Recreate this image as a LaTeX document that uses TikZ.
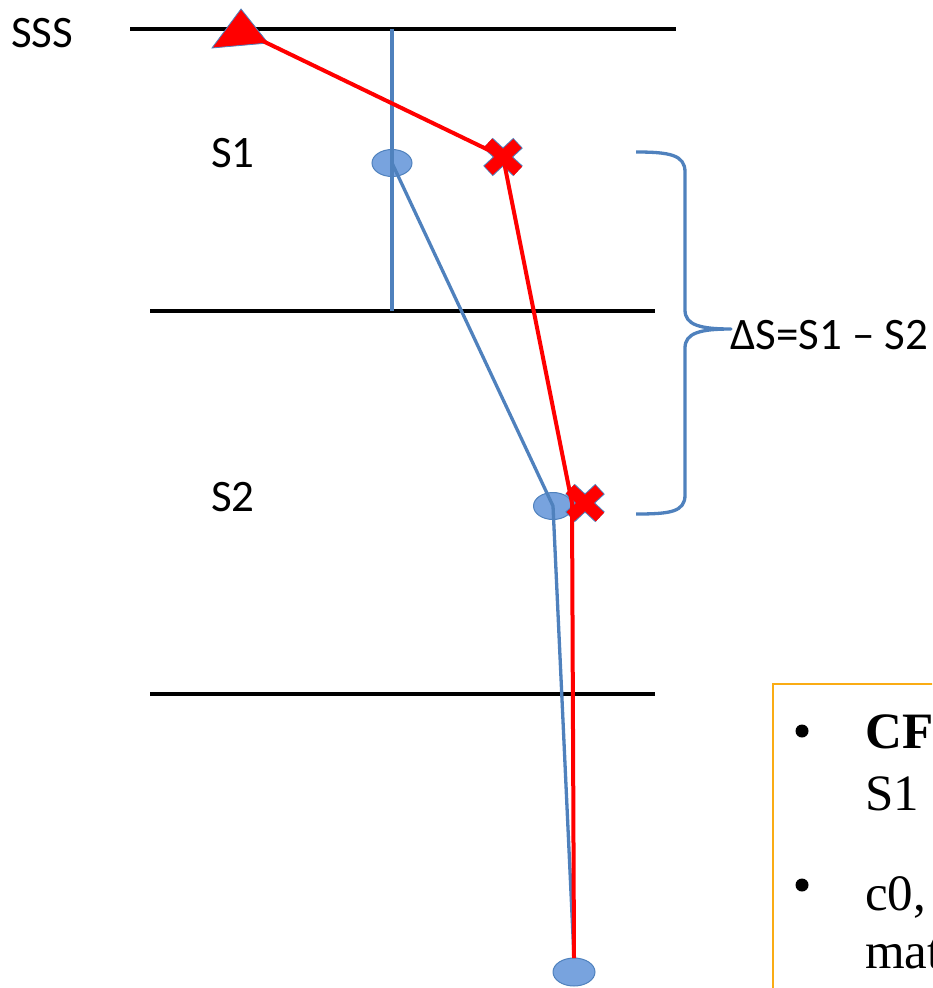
\documentclass[tikz,border=0pt]{standalone}
\usepackage{fontspec}
\setmainfont{Carlito}
\newfontfamily\serifbox{Liberation Serif}
\usetikzlibrary{shapes.geometric}
\definecolor{offblue}{RGB}{79,129,189}
\definecolor{ellfill}{RGB}{120,163,222}
\definecolor{boxorange}{RGB}{250,172,20}
\definecolor{xred}{RGB}{255,0,0}
\tikzset{
  level/.style={line width=4pt, black},
  blueline/.style={line width=3.3pt, offblue},
  redline/.style={line width=4pt, xred},
  marker/.style={ellipse, draw=offblue, line width=1pt, fill=ellfill, minimum width=40pt, minimum height=27pt, inner sep=0pt},
  lbl/.style={font=\fontsize{45}{52}\selectfont, inner sep=0pt, anchor=base west},
  boxtxt/.style={font=\serifbox\fontsize{51}{58}\selectfont, inner sep=0pt, anchor=base west},
}
\begin{document}
\begin{tikzpicture}[x=1pt,y=-1pt]
\useasboundingbox (0,0) rectangle (932,988);
\begin{scope}
\clip (0,0) rectangle (932,988);
% levels
\draw[level] (130,29) -- (676,29);
\draw[level] (150,311) -- (655,311);
\draw[level] (150,694) -- (655,694);
% labels
\node[lbl] (sss) at (11,47) {SSS};
\node[lbl] (ls1) at (211,167) {S1};
\node[lbl] (ls2) at (211,511) {S2};
% blue ellipses
\node[marker] (e1) at (392,163) {};
\node[marker, minimum width=39pt, minimum height=27pt] (e2) at (553,506) {};
\node[marker, minimum width=42pt, minimum height=28pt] (e3) at (574,972) {};
% red triangle
\coordinate (t) at (240,30);
\fill[xred, draw=offblue, line width=0.8pt] (241,9) -- (212,48) -- (268,43) -- cycle;
% red crosses
\coordinate (x1) at (503,157);
\coordinate (x2) at (585,503);
\foreach \c in {x1,x2}{
  \draw[offblue, line width=14pt] ([shift={(-15,-14)}]\c) -- ([shift={(15,14)}]\c) ([shift={(15,-14)}]\c) -- ([shift={(-15,14)}]\c);
  \draw[xred, line width=12pt, shorten <=0.8pt, shorten >=0.8pt] ([shift={(-15,-14)}]\c) -- ([shift={(15,14)}]\c) ([shift={(15,-14)}]\c) -- ([shift={(-15,14)}]\c);
}
% blue connectors
\coordinate (vtop) at (392,29);
\coordinate (vbot) at (392,311);
\draw[blueline] (vtop) -- (vbot);
\draw[blueline] (e1.center) -- (e2.center) -- (e3.north);
% red connectors
\coordinate (r2) at (572,503);
\draw[redline, line join=round] (t) -- (x1) -- (r2) -- (574,958);
% brace
\coordinate (btop) at (636,152);
\coordinate (bbot) at (636,514);
\coordinate (btip) at (731,329);
\draw[offblue, line width=3.3pt, line join=round]
  (btop) .. controls (670,152) and (685,155) .. (685,172)
  -- (685,310) .. controls (685,325) and (700,329) .. (btip)
  .. controls (700,329) and (685,333) .. (685,348)
  -- (685,495) .. controls (685,512) and (670,514) .. (bbot);
\node[lbl] (dS) at (730,349) {ΔS=S1 – S2};
% orange box
\draw[boxorange, line width=2.2pt] (773,1000) -- (773,684) -- (960,684);
\fill (802,731) circle (6.5pt);
\fill (802,885) circle (6.5pt);
\node[boxtxt] (t1) at (865,748) {\bfseries CF};
\node[boxtxt] (t2) at (865,810) {S1};
\node[boxtxt] (t3) at (865,910) {c0,};
\node[boxtxt] (t4) at (865,968) {mat};
\end{scope}
\end{tikzpicture}
\end{document}
